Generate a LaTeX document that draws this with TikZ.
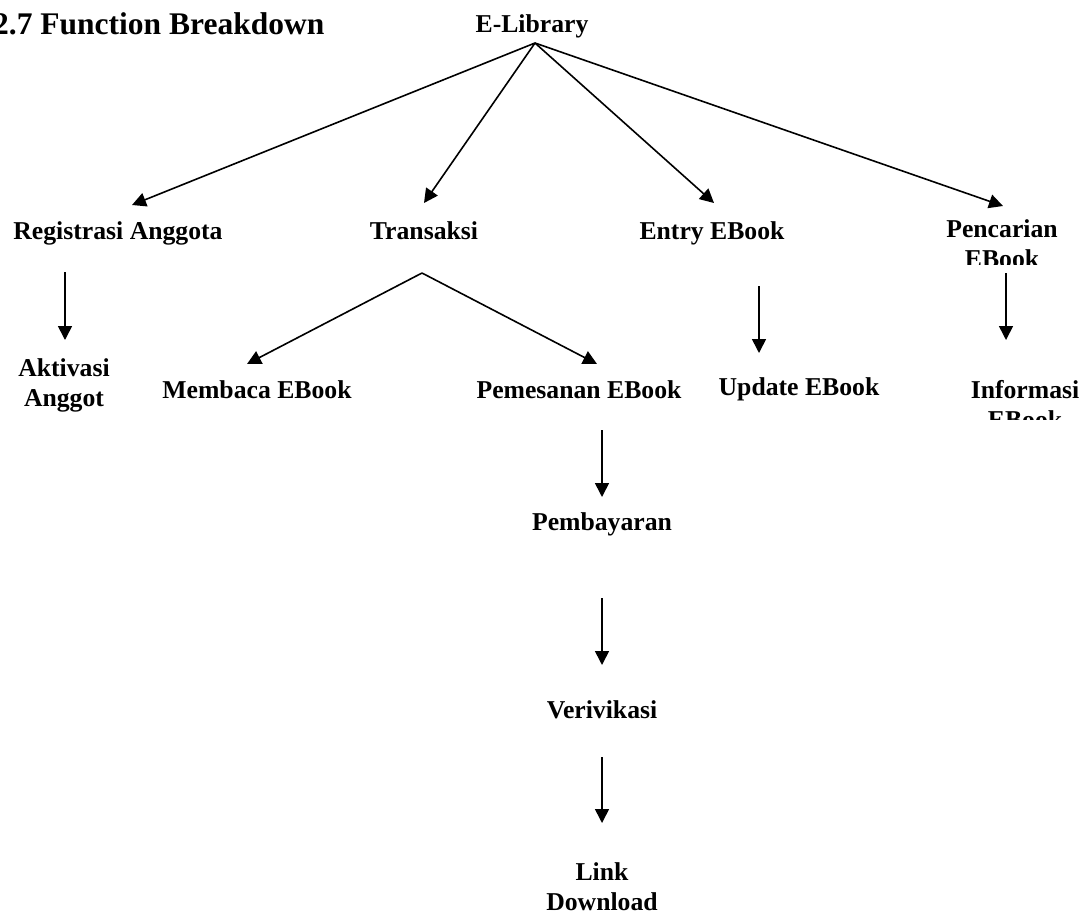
\documentclass[tikz,border=0pt]{standalone}
\usepackage{fontspec}
\setmainfont{Liberation Serif}
\usetikzlibrary{arrows.meta}
\begin{document}
\begin{tikzpicture}[x=1pt,y=-1pt,
  lbl/.style={inner sep=0pt,anchor=base,font=\fontsize{25.7}{30}\selectfont\bfseries},
  conn/.style={line width=1.6pt,-{Triangle[length=14pt,width=14pt]}}]
\useasboundingbox (0,0) rectangle (1089,916);
\fill[white] (0,0) rectangle (1089,916);

% heading and root
\node[inner sep=0pt,anchor=base west,font=\fontsize{31.5}{36}\selectfont\bfseries] (title) at (-7,34) {2.7 Function Breakdown};
\node[lbl] (lib) at (532,32) {E-Library};

% first level
\node[lbl] (reg) at (118,239) {Registrasi Anggota};
\node[lbl] (tra) at (424,239) {Transaksi};
\node[lbl] (ent) at (712,239) {Entry EBook};
\begin{scope}
  \clip (900,200) rectangle (1089,264);
  \node[lbl] (pen) at (1002,237) {\begin{tabular}[t]{@{}c@{}}Pencarian\\EBook\end{tabular}};
\end{scope}

% second level
\node[lbl] (akt) at (64,376) {\begin{tabular}[t]{@{}c@{}}Aktivasi\\Anggot\end{tabular}};
\node[lbl] (mem) at (257,398) {Membaca EBook};
\node[lbl] (pem) at (579,398) {Pemesanan EBook};
\node[lbl] (upd) at (799,395) {Update EBook};
\begin{scope}
  \clip (940,360) rectangle (1089,419);
  \node[lbl] (inf) at (1025,398) {\begin{tabular}[t]{@{}c@{}}Informasi\\EBook\end{tabular}};
\end{scope}

% ordering chain
\node[lbl] (pay) at (602,530) {Pembayaran};
\node[lbl] (ver) at (602,718) {Verivikasi};
\node[lbl] (lnk) at (602,880) {\begin{tabular}[t]{@{}c@{}}Link\\Download\end{tabular}};

% branch points and arrow ends
\coordinate (apex) at (535,43);
\coordinate (regIn) at (132,205);
\coordinate (traIn) at (424,203);
\coordinate (entIn) at (714,203);
\coordinate (penIn) at (1003,206);
\coordinate (fork) at (422,273);
\coordinate (memIn) at (247,364);
\coordinate (pemIn) at (597,364);

\draw[conn] (apex) -- (regIn);
\draw[conn] (apex) -- (traIn);
\draw[conn] (apex) -- (entIn);
\draw[conn] (apex) -- (penIn);

\draw[conn] (fork) -- (memIn);
\draw[conn] (fork) -- (pemIn);

\draw[conn] (65,272) -- (65,340);
\draw[conn] (759,286) -- (759,353);
\draw[conn] (1006,273) -- (1006,340);

\draw[conn] (602,430) -- (602,497);
\draw[conn] (602,598) -- (602,665);
\draw[conn] (602,757) -- (602,823);
\end{tikzpicture}
\end{document}
